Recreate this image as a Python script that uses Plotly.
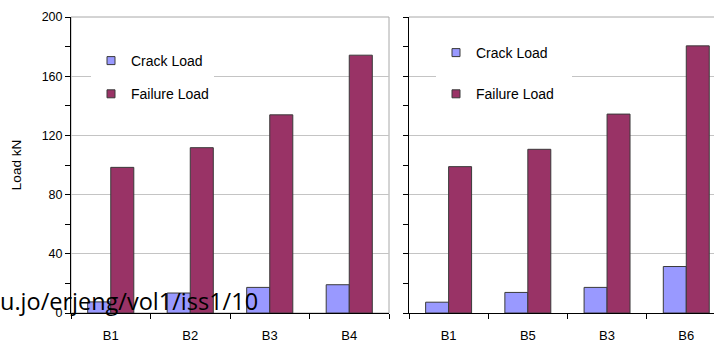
import plotly.graph_objects as go

left_cats = ["B1", "B2", "B3", "B4"]
left_crack = [7.5, 13.5, 17.3, 19.1]
left_failure = [98.4, 111.7, 133.9, 174.2]

right_cats = ["B1", "B5", "B3", "B6"]
right_crack = [7.3, 13.9, 17.3, 31.4]
right_failure = [98.9, 110.6, 134.4, 180.5]

series_names = ["Crack Load", "Failure Load"]
y_ticks = [0, 40, 80, 120, 160, 200]
watermark = "u.jo/erjeng/vol1/iss1/10"

crack_color = "#9999FF"
fail_color = "#993366"
edge = "#3a3a3a"
font_fam = "Arial, Liberation Sans, sans-serif"

fig = go.Figure()

# bars
fig.add_trace(go.Bar(x=left_cats, y=left_crack, marker=dict(color=crack_color, line=dict(color=edge, width=1)),
                     showlegend=False, xaxis="x", yaxis="y"))
fig.add_trace(go.Bar(x=left_cats, y=left_failure, marker=dict(color=fail_color, line=dict(color=edge, width=1)),
                     showlegend=False, xaxis="x", yaxis="y"))
fig.add_trace(go.Bar(x=right_cats, y=right_crack, marker=dict(color=crack_color, line=dict(color=edge, width=1)),
                     showlegend=False, xaxis="x2", yaxis="y2", offsetgroup="c2"))
fig.add_trace(go.Bar(x=right_cats, y=right_failure, marker=dict(color=fail_color, line=dict(color=edge, width=1)),
                     showlegend=False, xaxis="x2", yaxis="y2", offsetgroup="f2"))

# legend entries (square markers)
for leg, xa, ya in [("legend", "x", "y"), ("legend2", "x2", "y2")]:
    for i, (nm, col) in enumerate(zip(series_names, [crack_color, fail_color])):
        fig.add_trace(go.Scatter(x=[None], y=[None], mode="markers", name=nm,
                                 marker=dict(symbol="square", size=8, color=col, line=dict(color=edge, width=1)),
                                 legend=leg, legendgroup=leg + str(i), xaxis=xa, yaxis=ya))

W, H = 715, 342
L, R, T, B = 71, 0, 17, 29
pw = W - L - R
ph = H - T - B

def px_x(p):
    return (p - L) / pw

def px_y(p):
    return (H - B - p) / ph

axis_common = dict(showgrid=False, showline=True, linecolor="black", linewidth=1,
                   ticks="outside", ticklen=5, tickcolor="black", tickson="boundaries",
                   ticklabelstandoff=10,
                   tickfont=dict(family=font_fam, size=13, color="black"), zeroline=False)
yaxis_common = dict(range=[0, 200], tickvals=y_ticks, showgrid=True, gridcolor="#c4c4c4", gridwidth=1,
                    showline=True, linecolor="black", linewidth=1, ticks="outside", ticklen=5,
                    tickcolor="black", minor=dict(dtick=20, ticks="outside", ticklen=5, tickcolor="black", showgrid=False),
                    tickfont=dict(family=font_fam, size=12.5, color="black"), zeroline=False)

x2_lo = px_x(409)

fig.update_layout(
    width=W, height=H,
    margin=dict(l=L, r=R, t=T, b=B),
    paper_bgcolor="white", plot_bgcolor="white",
    barmode="group", bargap=0.42, bargroupgap=0,
    xaxis=dict(domain=[0, px_x(389)], range=[-0.5, 3.5], **axis_common),
    xaxis2=dict(domain=[x2_lo, px_x(714)], range=[-0.5, 3.35], **axis_common),
    yaxis=dict(anchor="x", title=dict(text="Load kN", font=dict(family=font_fam, size=13.5, color="black"), standoff=16),
               **yaxis_common),
    yaxis2=dict(anchor="x2", showticklabels=False, **yaxis_common),
    legend=dict(x=px_x(91), y=px_y(45), xanchor="left", yanchor="top", bgcolor="white",
                font=dict(family=font_fam, size=14, color="black"), traceorder="grouped", tracegroupgap=12),
    legend2=dict(x=px_x(436), y=px_y(37), xanchor="left", yanchor="top", bgcolor="white",
                 font=dict(family=font_fam, size=14, color="black"), traceorder="grouped", tracegroupgap=20),
    shapes=[
        dict(type="rect", xref="x domain", yref="y domain", x0=0, x1=1, y0=0, y1=1,
             line=dict(color="#a8a8a8", width=1), layer="below"),
        dict(type="line", xref="x2 domain", yref="y2 domain", x0=0, x1=1, y0=1, y1=1,
             line=dict(color="#a8a8a8", width=1), layer="below"),
        # extend the white legend backdrop of the right panel over the 160 gridline
        dict(type="rect", xref="paper", yref="paper", x0=px_x(545), x1=px_x(572), y0=px_y(82), y1=px_y(70),
             fillcolor="white", line=dict(width=0), layer="above"),
    ],
    annotations=[dict(text=watermark, xref="paper", yref="paper", x=px_x(-2), y=px_y(301),
                      xanchor="left", yanchor="middle", showarrow=False,
                      font=dict(family="Open Sans", size=23.5, color="black"))],
)

fig.write_html("out.html", config={"displayModeBar": False},
               post_script="document.body.style.margin='0';document.body.style.overflow='hidden';")
